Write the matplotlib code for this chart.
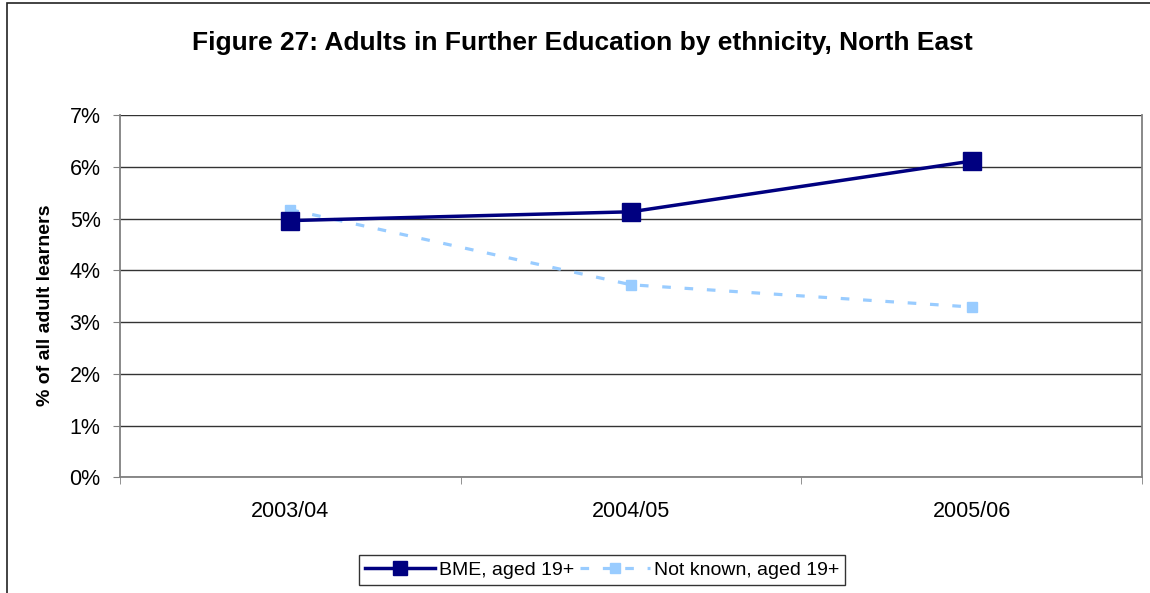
import numpy as np
import matplotlib.pyplot as plt
from matplotlib.patches import Rectangle
from matplotlib.ticker import PercentFormatter

plt.rcParams['font.family'] = ['Liberation Sans', 'DejaVu Sans']

# Share of all adult learners, by year
years = ['2003/04', '2004/05', '2005/06']
bme = [4.96, 5.13, 6.11]
not_known = [5.17, 3.72, 3.29]

fig = plt.figure(figsize=(11.5, 5.93), dpi=100)
ax = fig.add_axes([120 / 1150, 1 - 477.3 / 593, 1022 / 1150, 362.3 / 593])

x = np.arange(len(years)) + 0.5
ax.plot(x, bme, color='#000080', lw=2.5, marker='s', ms=12.5,
        label='BME, aged 19+', zorder=3)
ax.plot(x, not_known, color='#99CCFF', lw=2.3, marker='s', ms=7.5,
        dashes=(2.7, 4.3), label='Not known, aged 19+', zorder=2)

ax.set_xlim(0, 3)
ax.set_ylim(0, 7)
ax.set_yticks(range(8))
ax.yaxis.set_major_formatter(PercentFormatter(decimals=0))
ax.set_xticks(x)
ax.set_xticklabels(years)
ax.set_xticks([0, 1, 2, 3], minor=True)
ax.tick_params(axis='x', which='major', length=0, pad=17, labelsize=15.5)
ax.tick_params(axis='x', which='minor', length=5, color='#808080')
ax.tick_params(axis='y', length=5, color='#808080', pad=9, labelsize=15.5)

ax.grid(axis='y', color='#333333', lw=1)
ax.set_axisbelow(True)
for side in ['left', 'bottom', 'right']:
    ax.spines[side].set_color('#808080')
    ax.spines[side].set_linewidth(1.3)
ax.spines['top'].set_visible(False)

ax.set_ylabel('% of all adult learners', fontsize=14, fontweight='bold')
ax.yaxis.set_label_coords(54 / 1150, 1 - 305 / 593, transform=fig.transFigure)
fig.text(582 / 1150, 1 - 43 / 593, 'Figure 27: Adults in Further Education by ethnicity, North East',
         ha='center', va='center', fontsize=19, fontweight='bold')

leg = ax.legend(loc='center', bbox_to_anchor=(602 / 1150, 1 - 570 / 593),
                bbox_transform=fig.transFigure, ncol=2, frameon=True, fancybox=False,
                edgecolor='black', fontsize=14, handlelength=3.6, columnspacing=0.3,
                handletextpad=0.2, borderpad=0.3, borderaxespad=0)
leg.get_frame().set_linewidth(1)
leg.legend_handles[0].set_markersize(9.5)

# outer chart frame
fig.patches.append(Rectangle((7 / 1150, -0.1), 1.2, 1.1 - 3 / 593, transform=fig.transFigure,
                             fill=False, edgecolor='#222222', lw=1.2))

fig.savefig('out.png', dpi=100)
